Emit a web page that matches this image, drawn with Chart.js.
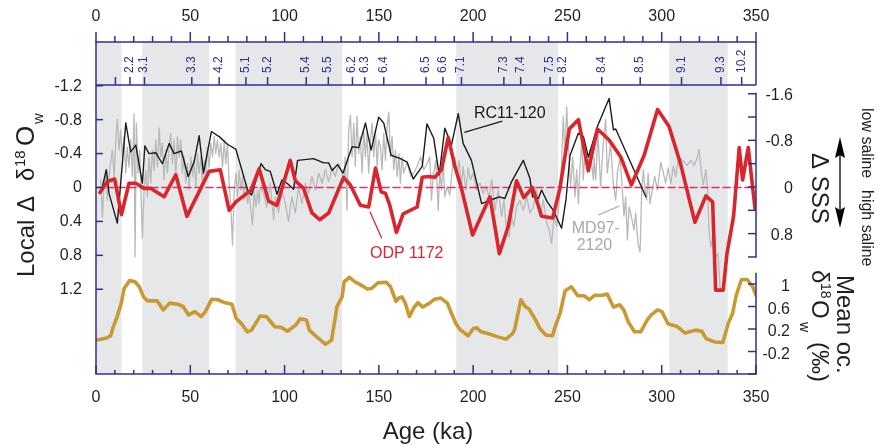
<!DOCTYPE html>
<html><head><meta charset="utf-8">
<script src="https://cdn.jsdelivr.net/npm/chart.js@4/dist/chart.umd.min.js"></script>
<style>html,body{margin:0;padding:0;background:#fff;}#wrap{width:881px;height:446px;}</style>
</head><body><div id="wrap"><canvas id="c" width="881" height="446"></canvas></div>
<script>
// ---------- data ----------
const ageTickLabels = [0,50,100,150,200,250,300,350];
const glacialBands = [[0,13.5],[24.6,60],[74,130.5],[191,245],[304,335]];
const misLabels = ['','2.2','3.1','3.3','4.2','5.1','5.2','5.4','5.5','6.2','6.3','6.4','6.5','6.6','7.1','7.3','7.4','7.5','8.2','8.4','8.5','9.1','9.3','10.2'];
const misAges = [10.3,18.0,25.7,50.8,65.3,79.5,91.0,111.5,123.2,136.0,142.5,152.6,175.0,184.0,193.8,216.3,225.2,240.8,247.8,268.2,288.6,310.5,331.4,342.4];
const localTicks = [-1.2,-0.8,-0.4,0,0.4,0.8,1.2];
const localTickLabels = ['-1.2','-0.8','-0.4','0','0.4','0.8','1.2'];
const sssTicks = [-1.6,-1.2,-0.8,-0.4,0,0.4,0.8,1.2];
const sssLabelVals = [-1.6,-0.8,0,0.8];
const sssTickLabels = ['-1.6','-0.8','0','0.8'];
const meanTicks = [1,0.6,0.2,-0.2,-0.6];
const meanLabelVals = [1,0.6,0.2,-0.2];
const meanTickLabels = ['1','0.6','0.2','-0.2'];

// ODP 1172 (red)
const odpAges = [2.1,6.0,9.9,13.5,17.5,21.1,25.5,29.0,36.1,42.3,48.2,60.0,65.9,70.6,74.2,82.2,86.5,91.5,96.0,103.0,105.7,110.1,114.5,118.6,123.4,131.3,134.9,140.2,144.6,148.2,151.2,153.5,155.8,159.3,162.9,170.3,173.0,176.5,179.7,183.2,186.8,190.3,193.8,199.7,208.9,213.9,218.6,223.0,226.9,231.5,236.3,242.2,246.0,251.0,255.8,261.1,265.9,272.1,278.3,283.9,290.7,297.8,303.9,310.1,317.6,323.4,327.0,328.6,332.6,334.6,338.1,341.1,342.9,345.9,349.5];
const odpVals = [0.06,-0.07,-0.10,0.32,-0.05,-0.05,0.01,0.01,0.11,-0.15,0.34,-0.19,-0.21,0.27,0.17,0.03,-0.22,0.16,0.21,-0.32,-0.08,0.01,0.30,0.38,0.30,-0.12,-0.03,0.21,0.23,-0.23,0.05,0.07,0.21,0.53,0.31,0.23,-0.12,-0.13,-0.12,-0.21,-0.59,-0.25,0.01,0.56,0.11,0.78,0.46,-0.08,0.12,0.00,0.34,0.36,0.01,-0.69,-0.80,-0.20,-0.69,-0.56,-0.36,-0.03,-0.38,-0.92,-0.72,-0.27,0.41,0.10,0.17,1.21,1.21,0.78,0.34,-0.47,-0.09,-0.47,0.25];

// RC11-120 (black)
const rcAges = [2.5,3.4,5.5,6.9,11.3,15.8,18.4,21.1,24.6,25.9,28.1,31.7,35.2,38.8,41.4,45.3,48.9,52.0,54.7,57.0,61.2,65.3,69.7,74.2,80.4,82.5,87.5,89.8,92.4,96.0,98.6,101.3,104.8,106.9,115.4,120.7,123.4,125.2,128.1,131.0,135.8,139.3,142.9,145.9,149.9,152.6,156.5,161.4,165.0,168.2,173.0,175.5,179.1,182.0,185.0,188.5,192.1,194.7,199.1,204.5,208.9,213.9,216.8,220.4,226.6,230.1,231.5,234.6,236.3,239.3,242.5,246.9,249.2,251.4,255.8,258.5,261.1,263.8,265.9,272.1,274.4,275.6,291.6];
const rcVals = [0.05,-0.01,-0.21,0.07,0.42,-0.76,-0.42,-0.50,-0.05,-0.49,-0.40,-0.41,-0.28,-0.52,-0.40,-0.43,-0.13,-0.30,-0.61,-0.17,-0.66,-0.60,-0.51,-0.45,0.03,0.09,-0.28,-0.21,-0.19,0.08,-0.09,-0.05,0.02,-0.32,-0.34,-0.29,-0.29,-0.20,-0.27,-0.17,-0.48,-0.47,-0.76,-0.44,-0.83,-0.76,-0.38,-0.34,-0.30,-0.10,-0.25,-0.75,-0.58,-0.15,-0.70,-0.50,-0.87,-0.52,-0.32,0.19,0.15,0.11,0.13,-0.07,-0.32,-0.11,0.11,0.13,0.03,0.17,0.27,0.48,0.15,-0.38,-0.64,-0.60,-0.36,-0.56,-0.72,-1.05,-0.68,-0.69,0.11];

// MD97-2120 (grey)
const mdAges = [2.5,3.4,4.2,5.1,6.0,7.4,8.7,9.6,10.6,11.3,12.2,13.1,14.0,14.9,15.8,16.6,17.5,18.4,19.3,20.2,20.7,21.4,22.3,23.2,24.1,24.6,25.5,26.4,27.3,28.1,29.0,29.9,30.8,31.7,32.6,33.5,34.3,35.2,36.1,37.0,37.9,38.8,39.6,40.5,41.4,42.3,43.2,44.1,45.0,45.8,46.7,47.6,48.5,49.4,50.3,51.2,52.0,52.9,53.8,54.7,55.6,56.5,57.3,58.2,59.1,60.0,60.9,61.8,62.7,63.5,64.4,65.3,66.2,67.1,68.0,68.8,69.7,70.6,71.5,72.4,73.3,74.2,75.0,75.9,76.8,77.7,78.6,79.5,80.4,81.2,82.1,83.0,83.9,84.8,85.7,86.5,
87.1,88.9,90.6,92.4,94.2,95.1,96.8,98.6,100.4,102.1,103.9,105.7,107.5,109.2,111.0,112.8,114.5,116.3,118.1,119.9,121.6,123.4,125.2,126.9,128.7,130.5,131.4,132.2,133.1,134.0,134.9,135.8,136.7,137.5,138.4,139.3,140.2,141.1,142.0,142.9,143.7,144.6,145.5,146.4,147.3,148.2,149.1,149.9,150.8,151.7,152.6,153.5,154.4,155.3,156.1,157.0,157.9,158.8,159.7,160.6,161.4,162.3,163.2,165.0,166.8,168.5,170.3,172.1,173.8,175.6,
177.0,177.9,178.8,180.2,181.5,182.3,183.2,184.1,185.0,186.2,187.6,189.1,190.3,191.5,192.6,193.8,194.7,196.1,197.4,198.6,200.0,201.8,203.6,205.3,206.8,208.5,209.8,211.5,213.3,215.1,216.3,217.7,219.1,220.4,221.6,223.0,224.8,226.6,228.4,230.1,231.9,233.7,235.4,237.2,239.0,240.4,241.6,242.9,244.3,245.7,246.9,247.8,248.7,249.6,250.5,251.7,252.8,254.0,254.9,255.8,256.7,257.6,258.4,259.3,260.6,262.0,263.8,
264.1,265.0,266.2,267.6,269.0,270.3,271.1,272.9,274.3,275.6,276.5,277.9,279.1,280.0,280.9,281.8,282.7,283.9,285.3,286.2,287.4,288.5,289.4,290.3,291.2,292.0,292.8,293.8,295.0,296.3,297.7,299.5,300.9,302.1,303.4,304.8,306.2,307.4,308.7,310.1,311.9,313.6,315.4,317.2,319.0,319.8,321.1,322.1,323.4,324.3,325.1,326.0,327.4,328.7,329.9,331.0];
const mdVals = [-0.09,0.35,0,-0.2,0.15,-0.24,-0.44,-0.13,-0.6,-0.8,-0.44,-0.68,-0.36,-0.6,-0.17,-0.48,-0.24,-0.56,-0.13,-0.87,0.82,-0.76,-0.17,-0.44,0.23,0.6,0.03,-0.2,0.11,-0.36,-0.05,-0.44,-0.2,-0.56,-0.24,-0.7,-0.36,-0.52,-0.09,-0.44,-0.17,-0.48,-0.64,-0.28,-0.56,-0.13,-0.6,-0.36,-0.56,-0.17,-0.36,-0.05,-0.28,0.03,-0.36,-0.13,-0.32,0,-0.4,-0.17,-0.36,-0.05,-0.32,-0.17,-0.48,-0.24,-0.52,-0.36,-0.6,-0.4,-0.56,-0.36,-0.52,-0.24,-0.56,-0.28,-0.52,-0.05,0.23,0.68,0.03,-0.17,0.11,-0.2,0.03,-0.13,0.15,-0.05,0.19,0.03,0.27,0.44,0.03,0.23,0.03,0.19,
-0.01,0.07,0.23,-0.05,0.38,0.11,0.30,0.03,0.19,0.40,0.11,0.30,-0.01,0.19,-0.05,0.07,-0.13,0.03,-0.17,-0.05,-0.21,-0.07,-0.23,-0.13,-0.28,-0.17,-0.05,-0.36,0.27,-0.68,-0.85,-0.36,-0.76,-0.25,-0.84,-0.40,-0.60,-0.17,-0.68,-0.36,-0.64,-0.17,-0.56,-0.76,-0.36,-0.68,-0.25,-0.56,-0.48,-0.21,-0.64,-0.32,-0.72,-0.89,-0.36,-0.60,-0.21,-0.44,-0.13,-0.40,-0.05,-0.36,-0.17,-0.30,-0.13,-0.17,-0.25,-0.36,-0.21,-0.28,
-0.36,0.15,-0.13,-0.32,0.27,-0.21,0.03,-0.30,0.11,-0.01,0.09,-0.25,-0.36,-0.13,-0.32,-0.01,-0.25,0.03,-0.23,-0.09,-0.17,0.03,-0.05,0.07,-0.01,0.11,-0.09,0.27,0.03,0.34,0.15,0.50,0.58,0.34,0.46,0.23,0.15,0.27,0.11,0.30,0.23,0.03,0.34,0.15,0.42,0.50,0.66,0.34,0.46,0.15,-0.28,-0.84,-0.36,-0.95,-0.52,-0.01,-0.36,0.11,-0.21,0.19,-0.25,-0.56,-0.09,-0.44,-0.17,-0.44,-0.09,
-0.36,-0.09,-0.64,-0.01,-0.52,-0.80,-0.17,-0.52,-0.05,0.15,-0.17,-0.36,0.03,0.34,0.11,0.62,0.23,0.34,0.50,0.30,0.66,0.76,0.03,-0.21,0.03,0.15,-0.17,0.19,0.03,-0.13,0.03,-0.30,-0.17,-0.05,-0.23,-0.05,-0.25,-0.13,-0.32,-0.34,-0.30,-0.26,-0.32,-0.26,-0.36,-0.45,-0.17,-0.03,-0.21,0.03,0.50,0.70,0.54,0.82,0.78,1.20];

// Mean ocean d18Ow (gold)
const meanAges = [0,5.6,7.8,8.9,11.2,13.4,14.9,17.8,20.7,23.0,25.2,27.4,32.4,35.7,39.0,43.5,46.2,49.1,52.4,55.8,58.0,61.4,64.7,68.0,72.1,74.3,77.0,80.3,82.5,87.0,90.4,94.8,98.2,101.5,106.0,108.2,111.6,113.1,116.0,118.2,121.6,124.9,127.8,130.5,131.6,134.5,137.2,140.6,143.9,146.1,149.5,153.9,156.2,159.1,160.6,162.2,164.0,166.2,168.4,170.7,173.3,176.9,179.6,182.9,186.3,188.5,190.8,193.0,197.4,200.1,201.9,204.1,208.6,213.1,217.5,220.9,222.0,225.3,227.6,229.8,233.1,235.4,238.7,242.1,243.2,246.1,248.8,252.1,255.5,258.8,261.7,264.4,268.4,271.1,274.4,277.8,280.0,282.2,285.6,288.9,292.3,294.5,297.8,300.1,303.4,307.9,312.3,317.9,321.3,323.5,328.0,332.4,335.3,337.6,339.5,342.3,345.3,348.3,350];
const meanVals = [0.00,0.04,0.08,0.21,0.42,0.66,0.92,1.06,1.04,0.95,0.77,0.70,0.70,0.54,0.66,0.64,0.60,0.45,0.51,0.42,0.51,0.73,0.72,0.67,0.64,0.39,0.30,0.15,0.18,0.43,0.42,0.24,0.23,0.16,0.27,0.38,0.36,0.18,0.09,0.03,-0.07,0.00,0.60,0.77,1.04,1.12,1.04,0.98,0.91,0.92,1.02,1.03,0.95,0.69,0.75,0.77,0.66,0.42,0.57,0.67,0.59,0.66,0.73,0.75,0.66,0.48,0.30,0.19,0.08,0.21,0.22,0.15,0.11,0.06,0.02,0.12,0.19,0.72,0.60,0.55,0.36,0.21,0.09,0.08,0.21,0.48,0.88,0.95,0.79,0.79,0.72,0.80,0.80,0.82,0.59,0.63,0.53,0.33,0.15,0.15,0.36,0.45,0.54,0.51,0.29,0.25,0.13,0.18,0.16,0.03,-0.03,-0.04,0.30,0.48,0.80,1.08,1.08,0.95,0.80];

const zeroAges = [0,350];
const zeroVals = [0,0];

// ---------- style ----------
const FONT = '"Liberation Sans", Arial, Helvetica, sans-serif';
const NAVY = '#2e3192';
const RED = '#d9262c';
const GOLD = '#c99a33';
const pts = (a,v) => a.map((x,i)=>({x:x, y:v[i]}));

const deco = {
  id:'deco',
  beforeDatasetsDraw(chart){
    const {ctx, chartArea:ca, scales:{x}} = chart;
    ctx.save();
    ctx.fillStyle = '#e6e7e8';
    for (const [a,b] of glacialBands){
      const x1 = x.getPixelForValue(a), x2 = x.getPixelForValue(b);
      ctx.fillRect(x1, ca.top, x2-x1, ca.bottom-ca.top);
    }
    ctx.restore();
  },
  afterDatasetsDraw(chart){
    const {ctx, chartArea:ca, scales:{x, y, ySSS, yMean}} = chart;
    const L = ca.left, R = ca.right, T = ca.top, B = ca.bottom;
    const misY = 85;
    ctx.save();
    const line = (x1,y1,x2,y2)=>{ctx.beginPath();ctx.moveTo(x1,y1);ctx.lineTo(x2,y2);ctx.stroke();};
    const txt = (s,x0,y0,font,color,align,base)=>{ctx.font=font;ctx.fillStyle=color;ctx.textAlign=align;ctx.textBaseline=base;ctx.fillText(s,x0,y0);};
    const rtxt = (s,x0,y0,ang,font,color)=>{ctx.save();ctx.translate(x0,y0);ctx.rotate(ang);ctx.font=font;ctx.fillStyle=color;ctx.textAlign='left';ctx.textBaseline='alphabetic';ctx.fillText(s,0,0);ctx.restore();};

    // frame
    ctx.strokeStyle = NAVY; ctx.lineWidth = 1.5;
    line(L-0.75,T,R+0.75,T); line(L,misY,R,misY); line(L,T,L,B); line(L-0.75,B,R+0.75,B); line(R,T,R,misY);
    const s1 = ySSS.getPixelForValue(sssTicks[0]), s2 = ySSS.getPixelForValue(sssTicks[sssTicks.length-1]);
    line(R, s1-1, R, s2+0.75);
    line(R, yMean.getPixelForValue(1.2), R, B);

    // x ticks
    for (let a=0; a<=350; a+=10){
      const px = x.getPixelForValue(a);
      const major = a%50===0;
      line(px, T, px, T-(major?10:6));
      line(px, B, px, B-(major?9:4));
    }
    // MIS ticks
    misAges.forEach(a=>{ const px=x.getPixelForValue(a); line(px, misY, px, misY-8); });
    // y ticks
    localTicks.forEach(v=>{ const py=y.getPixelForValue(v); line(L, py, L+7, py); });
    sssTicks.forEach(v=>{ const py=ySSS.getPixelForValue(v); line(R, py, R-8, py); });
    meanTicks.forEach(v=>{ const py=yMean.getPixelForValue(v); line(R, py, R-8, py); });

    // tick labels
    const f16 = '16px '+FONT;
    ageTickLabels.forEach(a=>{
      const px=x.getPixelForValue(a);
      txt(String(a), px, 17, f16, '#231f20', 'center', 'middle');
      txt(String(a), px, 398, f16, '#231f20', 'center', 'middle');
    });
    localTicks.forEach((v,i)=>txt(localTickLabels[i], 82, y.getPixelForValue(v)+0.5, f16, '#231f20', 'right', 'middle'));
    sssLabelVals.forEach((v,i)=>txt(sssTickLabels[i], 793, ySSS.getPixelForValue(v)+1.5, f16, '#231f20', 'right', 'middle'));
    meanLabelVals.forEach((v,i)=>txt(meanTickLabels[i], 790, yMean.getPixelForValue(v)+3, f16, '#231f20', 'right', 'middle'));

    // MIS labels
    misAges.forEach((a,i)=>{ if(!misLabels[i]) return; const px=x.getPixelForValue(a); rtxt(misLabels[i], px+3, 73, -Math.PI/2, '12px '+FONT, NAVY); });

    // axis titles
    txt('Age (ka)', 428, 432, '24px '+FONT, '#231f20', 'center', 'middle');
    const up = -Math.PI/2, dn = Math.PI/2;
    const f24 = '24px '+FONT, f26 = '26px '+FONT, f15 = '15px '+FONT, f14='14px '+FONT;
    rtxt('Local', 34, 277, up, f24, '#231f20');
    rtxt('\u0394', 34, 212, up, f24, '#231f20');
    rtxt('\u03b4', 34, 181, up, f24, '#231f20');
    rtxt('18', 25, 167, up, f15, '#231f20');
    rtxt('O', 34, 146, up, f26, '#231f20');
    rtxt('w', 43, 124, up, f15, '#231f20');

    rtxt('\u0394 SSS', 812, 153, dn, f24, '#231f20');
    rtxt('Mean oc.', 837, 275, dn, f24, '#231f20');
    rtxt('\u03b4', 812, 270, dn, f24, '#231f20');
    rtxt('18', 821, 283, dn, f14, '#231f20');
    rtxt('O', 812, 300, dn, f24, '#231f20');
    rtxt('w', 800, 322, dn, f14, '#231f20');
    rtxt('(\u2030)', 812, 342, dn, f24, '#231f20');
    rtxt('low saline', 862, 108, dn, f16, '#231f20');
    rtxt('high saline', 862, 190, dn, f16, '#231f20');

    // arrow
    ctx.strokeStyle = '#000'; ctx.fillStyle = '#000'; ctx.lineWidth = 1.3;
    line(840, 150, 840, 216);
    ctx.beginPath(); ctx.moveTo(840,137); ctx.lineTo(845,158); ctx.lineTo(840,155); ctx.lineTo(835,158); ctx.closePath(); ctx.fill();
    ctx.beginPath(); ctx.moveTo(840,228); ctx.lineTo(845,207); ctx.lineTo(840,210); ctx.lineTo(835,207); ctx.closePath(); ctx.fill();

    // series annotations
    const X = a=>x.getPixelForValue(a), Y = v=>y.getPixelForValue(v);
    ctx.lineWidth = 1.3;
    ctx.strokeStyle = '#1c1c1c'; line(X(215.5), Y(-0.784), X(195.3), Y(-0.651));
    txt('RC11-120', X(200.4), Y(-0.82), f16, '#1c1c1c', 'left', 'alphabetic');
    ctx.strokeStyle = RED; line(X(145.3), Y(0.285), X(151.5), Y(0.599));
    txt('ODP 1172', X(145.3), Y(0.83), f16, RED, 'left', 'alphabetic');
    ctx.strokeStyle = '#a7a9ac'; line(X(266.4), Y(0.324), X(277.5), Y(0.218));
    txt('MD97-', X(252.3), Y(0.537), f16, '#a7a9ac', 'left', 'alphabetic');
    txt('2120', X(254.9), Y(0.737), f16, '#a7a9ac', 'left', 'alphabetic');
    ctx.restore();
  }
};

new Chart(document.getElementById('c'), {
  type: 'line',
  data: { datasets: [
    {label:'ODP 1172', data: pts(odpAges, odpVals), yAxisID:'y', borderColor: RED, borderWidth: 3.6, order: 1},
    {label:'RC11-120', data: pts(rcAges, rcVals), yAxisID:'y', borderColor: '#1c1c1c', borderWidth: 1.4, order: 2},
    {label:'zero', data: pts(zeroAges, zeroVals), yAxisID:'y', borderColor: '#e0306e', borderWidth: 1.5, borderDash:[7,4], order: 3},
    {label:'MD97-2120', data: pts(mdAges, mdVals), yAxisID:'y', borderColor: '#b9b9b9', borderWidth: 1.3, order: 4},
    {label:'Mean oc. d18Ow', data: pts(meanAges, meanVals), yAxisID:'yMean', borderColor: GOLD, borderWidth: 3.6, order: 5}
  ]},
  options: {
    responsive: false, animation: false, devicePixelRatio: 1,
    layout: {padding: {left: 96, right: 125, top: 42, bottom: 72}},
    elements: {point: {radius: 0}, line: {tension: 0, fill: false, borderJoinStyle: 'round', borderCapStyle: 'round'}},
    plugins: {legend: {display: false}, tooltip: {enabled: false}},
    scales: {
      x: {type: 'linear', min: 0, max: 350, display: false},
      y: {type: 'linear', reverse: true, min: -1.7158, max: 2.1993, display: false},
      ySSS: {type: 'linear', reverse: true, min: -2.487, max: 3.208, display: false},
      yMean: {type: 'linear', min: -0.6, max: 5.302, display: false}
    }
  },
  plugins: [deco]
});
</script></body></html>
